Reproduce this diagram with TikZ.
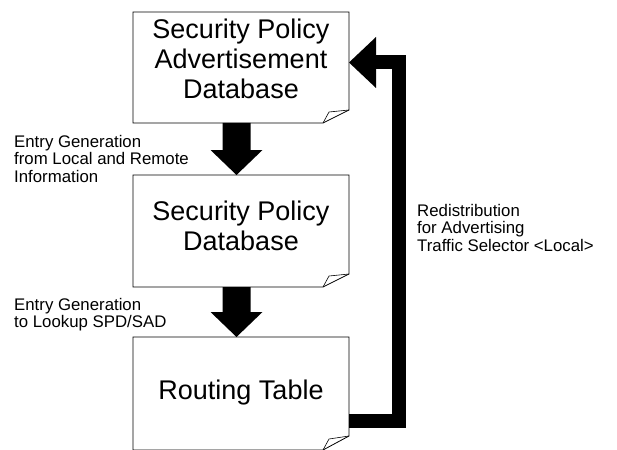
\documentclass[tikz,border=0pt]{standalone}
\usepackage{fontspec}
\setmainfont{Liberation Sans}
\usetikzlibrary{calc}
\tikzset{
  notebox/.style={minimum width=216pt, inner sep=0pt, outer sep=0pt},
  boxtext/.style={align=center, inner sep=0pt, font=\fontsize{27}{30}\selectfont},
  sidetext/.style={align=left, inner sep=0pt, anchor=north west, font=\fontsize{16.8}{17.5}\selectfont}
}
\begin{document}
\begin{tikzpicture}[x=1pt, y=-1pt]
\useasboundingbox (0,0) rectangle (617,449);
\clip (0,0) rectangle (617,449);
\node[notebox, minimum height=111pt] (sapd) at (241,67.5) {};
\node[notebox, minimum height=112pt] (spd) at (241,231) {};
\node[notebox, minimum height=113pt] (rt) at (241,393.5) {};
\foreach \b/\c in {sapd/13, spd/13, rt/14} {
  \draw[line width=0.8pt, line join=miter] (\b.north west) -- (\b.north east) -- ([yshift=\c pt]\b.south east) -- ([xshift=-26pt]\b.south east) -- (\b.south west) -- cycle;
  \draw[line width=0.6pt] ([xshift=-26pt]\b.south east) -- ([xshift=-20pt,yshift=11pt]\b.south east) -- ([yshift=\c pt]\b.south east);
}
\node[boxtext] (sapdtext) at ([yshift=9pt]sapd.center) {Security Policy\\Advertisement\\Database};
\node[boxtext] (spdtext) at ([yshift=5pt]spd.center) {Security Policy\\Database};
\node[boxtext] (rttext) at ([yshift=1pt]rt.center) {Routing Table};
\foreach \from/\to in {sapd/spd, spd/rt}
  \fill ([xshift=-18.5pt]\from.south) -- ([xshift=9.5pt]\from.south) -- ([xshift=9.5pt,yshift=25pt]\to.north) -- ([xshift=21.5pt,yshift=25pt]\to.north) -- ([xshift=-4.5pt]\to.north) -- ([xshift=-30.5pt,yshift=25pt]\to.north) -- ([xshift=-18.5pt,yshift=25pt]\to.north) -- cycle;
\draw[line width=14pt, line join=miter] ([yshift=-27.5pt]rt.east) -- ++(50,0) |- ([xshift=27pt,yshift=5pt]sapd.east);
\fill ([xshift=27pt,yshift=30.5pt]sapd.east) -- ([yshift=5pt]sapd.east) -- ([xshift=27pt,yshift=-20.5pt]sapd.east) -- cycle;
\node[sidetext] (genlabel) at (14,135) {Entry Generation\\from Local and Remote\\Information};
\node[sidetext] (lookuplabel) at (14,298) {Entry Generation\\to Lookup SPD/SAD};
\node[sidetext] (redistlabel) at (417,204) {Redistribution\\for Advertising\\Traffic Selector <Local>};
\end{tikzpicture}
\end{document}
